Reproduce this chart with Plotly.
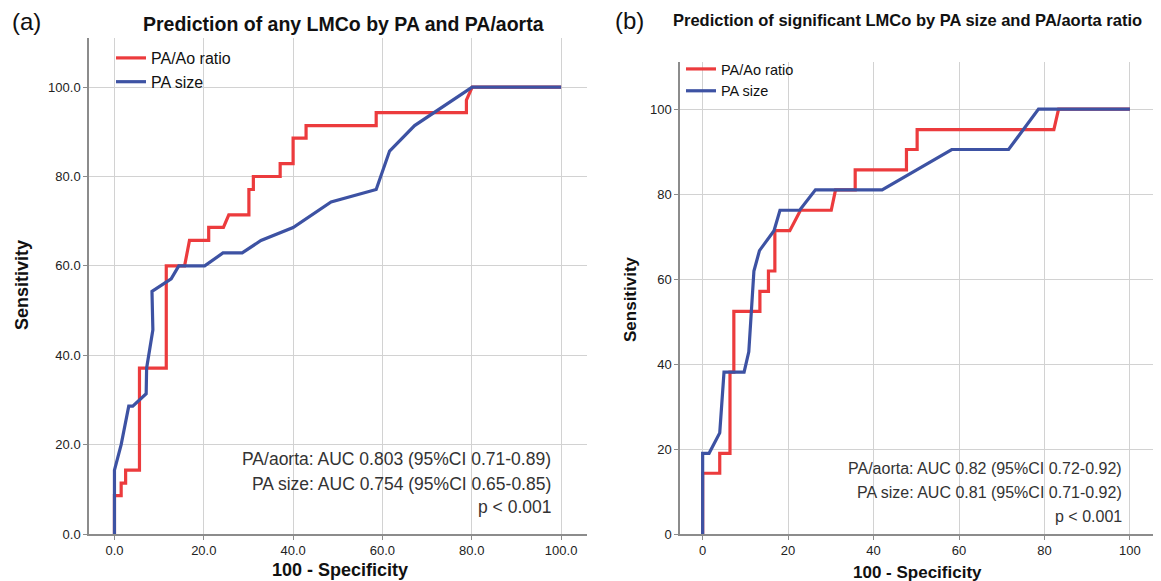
import plotly.graph_objects as go

# ---------------- data ----------------
ticks = [0, 20, 40, 60, 80, 100]
tick_labels_a = ["0.0", "20.0", "40.0", "60.0", "80.0", "100.0"]
tick_labels_b = ["0", "20", "40", "60", "80", "100"]

# Panel (a): any LMCo
a_ratio_x = [0, 0, 1.5, 1.5, 2.5, 2.5, 5.6, 5.6, 11.6, 11.6, 15.7, 16.8, 21.1, 21.1, 24.4, 25.6,
             30.1, 30.1, 31.1, 31.1, 37.1, 37.1, 40.0, 40.0, 42.9, 42.9, 58.6, 58.6, 78.8, 78.8, 80.1, 100]
a_ratio_y = [0, 8.6, 8.6, 11.4, 11.4, 14.3, 14.3, 37.1, 37.1, 60.0, 60.0, 65.7, 65.7, 68.6, 68.6, 71.4,
             71.4, 77.1, 77.1, 80.0, 80.0, 82.9, 82.9, 88.6, 88.6, 91.4, 91.4, 94.3, 94.3, 97.1, 100, 100]
a_size_x = [0, 0, 1.5, 3.2, 4.1, 7.1, 7.2, 8.6, 8.4, 12.7, 14.4, 20.2, 24.3, 28.6, 32.8, 40.0,
            48.5, 58.6, 61.6, 67.2, 80.1, 100]
a_size_y = [0, 14.3, 20.0, 28.6, 28.6, 31.4, 37.1, 45.7, 54.3, 57.1, 60.0, 60.0, 62.9, 62.9, 65.7, 68.6,
            74.3, 77.1, 85.7, 91.4, 100, 100]

# Panel (b): significant LMCo
b_ratio_x = [0, 0, 4.0, 4.0, 6.4, 6.4, 7.3, 7.3, 13.4, 13.4, 15.4, 15.4, 16.9, 16.9, 20.4, 22.9,
             30.1, 31.1, 35.7, 35.7, 47.7, 47.7, 50.2, 50.2, 82.2, 83.3, 100]
b_ratio_y = [0, 14.3, 14.3, 19.0, 19.0, 38.1, 38.1, 52.4, 52.4, 57.1, 57.1, 61.9, 61.9, 71.4, 71.4, 76.2,
             76.2, 81.0, 81.0, 85.7, 85.7, 90.5, 90.5, 95.2, 95.2, 100, 100]
b_size_x = [0, 0, 1.5, 4.0, 5.0, 9.7, 10.8, 11.6, 12.0, 13.3, 16.7, 18.1, 22.7, 26.4, 42.0, 58.3,
            71.6, 78.6, 100]
b_size_y = [0, 19.0, 19.0, 23.8, 38.1, 38.1, 42.9, 57.1, 61.9, 66.7, 71.4, 76.2, 76.2, 81.0, 81.0, 90.5,
            90.5, 100, 100]

auc_a = ["PA/aorta: AUC 0.803 (95%CI 0.71-0.89)", "PA size: AUC 0.754 (95%CI 0.65-0.85)", "p < 0.001"]
auc_b = ["PA/aorta: AUC 0.82 (95%CI 0.72-0.92)", "PA size: AUC 0.81 (95%CI 0.71-0.92)", "p < 0.001"]

RED = "#ec3b3d"
BLUE = "#3d52a3"
FONT = "Liberation Sans, Arial, sans-serif"
W, H = 1161, 581
FIG_H = 589


def px(x):
    return x / W


def py(y):
    return 1 - y / H


fig = go.Figure()
fig.add_trace(go.Scatter(x=a_ratio_x, y=a_ratio_y, mode="lines", name="PA/Ao ratio",
                         line=dict(color=RED, width=3.2), xaxis="x", yaxis="y", legend="legend"))
fig.add_trace(go.Scatter(x=a_size_x, y=a_size_y, mode="lines", name="PA size",
                         line=dict(color=BLUE, width=3.2), xaxis="x", yaxis="y", legend="legend"))
fig.add_trace(go.Scatter(x=b_ratio_x, y=b_ratio_y, mode="lines", name="PA/Ao ratio",
                         line=dict(color=RED, width=3.2), xaxis="x2", yaxis="y2", legend="legend2"))
fig.add_trace(go.Scatter(x=b_size_x, y=b_size_y, mode="lines", name="PA size",
                         line=dict(color=BLUE, width=3.2), xaxis="x2", yaxis="y2", legend="legend2"))

axis_common = dict(showline=True, linecolor="#8c8c8c", linewidth=1.5, showgrid=True,
                   gridcolor="#d2d2d2", gridwidth=1, zeroline=False, ticks="outside",
                   ticklen=4, tickcolor="#8c8c8c", tickfont=dict(family=FONT, size=13, color="#222"),
                   tickvals=ticks, fixedrange=True)

fig.update_layout(
    width=W, height=FIG_H, margin=dict(l=0, r=0, t=0, b=0),
    paper_bgcolor="white", plot_bgcolor="white",
    font=dict(family=FONT, color="#111"),
    xaxis=dict(axis_common, domain=[px(89), px(587)], range=[-5.7, 105.8], ticktext=tick_labels_a,
               anchor="y"),
    yaxis=dict(axis_common, domain=[py(534), py(38)], range=[0, 111], ticktext=tick_labels_a,
               anchor="x"),
    xaxis2=dict(axis_common, domain=[px(680), px(1153)], range=[-5.3, 105.4], ticktext=tick_labels_b,
                anchor="y2"),
    yaxis2=dict(axis_common, domain=[py(534), py(62)], range=[0, 111.1], ticktext=tick_labels_b,
                anchor="x2"),
    legend=dict(x=px(111), y=py(41), xanchor="left", yanchor="top", bgcolor="rgba(0,0,0,0)",
                font=dict(family=FONT, size=16, color="#111"), itemwidth=30, tracegroupgap=0),
    legend2=dict(x=px(681), y=py(53), xanchor="left", yanchor="top", bgcolor="rgba(0,0,0,0)",
                 font=dict(family=FONT, size=14.5, color="#111"), itemwidth=30, tracegroupgap=0),
    showlegend=True,
)

ann = []
# panel labels
ann.append(dict(text="(a)", x=px(10), y=py(22), xanchor="left", yanchor="middle",
                font=dict(size=24, color="#111")))
ann.append(dict(text="(b)", x=px(613), y=py(20), xanchor="left", yanchor="middle",
                font=dict(size=24, color="#111")))
# titles
ann.append(dict(text="<b>Prediction of any LMCo by PA and PA/aorta</b>", x=px(343), y=py(24),
                xanchor="center", yanchor="middle", font=dict(size=19.5, color="#111")))
ann.append(dict(text="<b>Prediction of significant LMCo by PA size and PA/aorta ratio</b>", x=px(907),
                y=py(20), xanchor="center", yanchor="middle", font=dict(size=16.5, color="#111")))
# axis titles
ann.append(dict(text="<b>Sensitivity</b>", x=px(22), y=py(285), xanchor="center", yanchor="middle",
                textangle=-90, font=dict(size=18, color="#111")))
ann.append(dict(text="<b>100 - Specificity</b>", x=px(340), y=py(570), xanchor="center",
                yanchor="middle", font=dict(size=18, color="#111")))
ann.append(dict(text="<b>Sensitivity</b>", x=px(630), y=py(299), xanchor="center", yanchor="middle",
                textangle=-90, font=dict(size=17, color="#111")))
ann.append(dict(text="<b>100 - Specificity</b>", x=px(917), y=py(572), xanchor="center",
                yanchor="middle", font=dict(size=17, color="#111")))
# AUC texts
for t, yy in zip(auc_a, [459, 484, 507]):
    ann.append(dict(text=t, x=px(553), y=py(yy), xanchor="right", yanchor="middle",
                    font=dict(size=17.5, color="#333")))
for t, yy in zip(auc_b, [468, 492, 516]):
    ann.append(dict(text=t, x=px(1124), y=py(yy), xanchor="right", yanchor="middle",
                    font=dict(size=16, color="#333")))
for a in ann:
    a.update(xref="paper", yref="paper", showarrow=False)
    a["font"]["family"] = FONT
fig.update_layout(annotations=ann)

fig.write_html("out.html", config={"displayModeBar": False},
               post_script="document.body.style.margin='0';document.body.style.padding='0';")
